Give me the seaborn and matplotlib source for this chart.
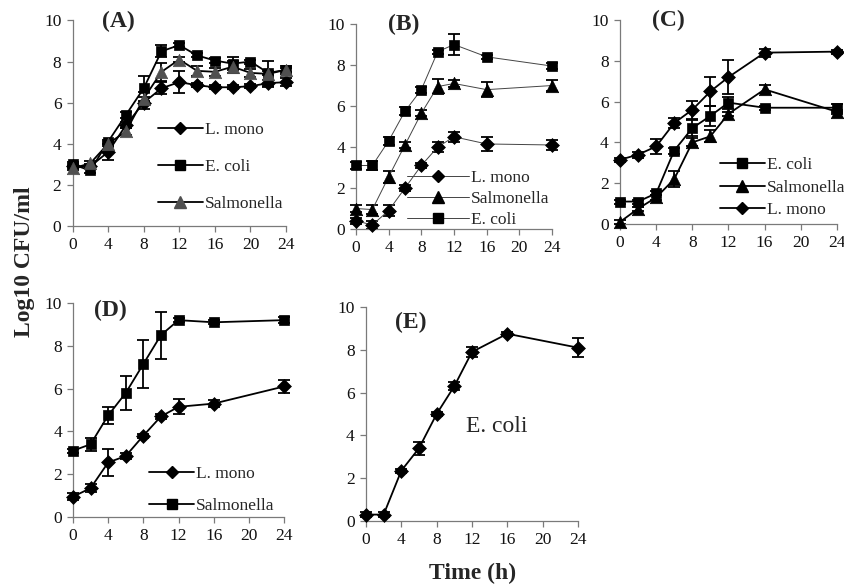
import numpy as np
import pandas as pd
import matplotlib
matplotlib.use("Agg")
import matplotlib.pyplot as plt
from matplotlib.lines import Line2D
import seaborn as sns

sns.set_theme(style="ticks")
plt.rcParams['font.family'] = ['Liberation Serif', 'DejaVu Serif']

# ---------------- data ----------------
t_A = [0, 2, 4, 6, 8, 10, 12, 14, 16, 18, 20, 22, 24]
A_lmono = [2.9, 2.9, 3.6, 4.9, 6.0, 6.7, 7.0, 6.85, 6.75, 6.75, 6.8, 6.95, 7.0]
A_lmono_err = [0.1, 0.1, 0.4, 0.15, 0.3, 0.3, 0.55, 0.1, 0.1, 0.1, 0.1, 0.15, 0.2]
A_ecoli = [3.0, 2.7, 4.1, 5.4, 6.7, 8.5, 8.8, 8.3, 8.05, 7.9, 8.0, 7.45, 7.6]
A_ecoli_err = [0.1, 0.1, 0.1, 0.15, 0.6, 0.3, 0.1, 0.1, 0.1, 0.3, 0.1, 0.1, 0.1]
A_salm = [2.8, 3.05, 4.0, 4.6, 6.2, 7.5, 8.1, 7.55, 7.5, 7.75, 7.45, 7.4, 7.6]
A_salm_err = [0.1, 0.1, 0.1, 0.15, 0.3, 0.45, 0.1, 0.25, 0.2, 0.3, 0.2, 0.65, 0.2]

t_B = [0, 2, 4, 6, 8, 10, 12, 16, 24]
B_ecoli = [3.1, 3.1, 4.3, 5.75, 6.8, 8.65, 9.0, 8.4, 7.95]
B_ecoli_err = [0.15, 0.2, 0.2, 0.2, 0.15, 0.1, 0.5, 0.1, 0.15]
B_salm = [1.0, 0.95, 2.55, 4.1, 5.65, 6.95, 7.1, 6.8, 7.0]
B_salm_err = [0.15, 0.2, 0.3, 0.15, 0.15, 0.35, 0.15, 0.35, 0.25]
B_lmono = [0.4, 0.2, 0.9, 2.0, 3.1, 4.0, 4.5, 4.15, 4.1]
B_lmono_err = [0.15, 0.2, 0.25, 0.15, 0.1, 0.25, 0.25, 0.35, 0.25]

t_C = [0, 2, 4, 6, 8, 10, 12, 16, 24]
C_ecoli = [1.1, 1.1, 1.5, 3.6, 4.7, 5.3, 5.95, 5.7, 5.7]
C_ecoli_err = [0.1, 0.1, 0.1, 0.15, 0.4, 0.5, 0.3, 0.1, 0.2]
C_salm = [0.1, 0.75, 1.3, 2.2, 4.0, 4.3, 5.4, 6.6, 5.5]
C_salm_err = [0.1, 0.1, 0.1, 0.4, 0.2, 0.3, 0.1, 0.2, 0.1]
C_lmono = [3.15, 3.4, 3.8, 4.95, 5.6, 6.5, 7.2, 8.4, 8.45]
C_lmono_err = [0.1, 0.15, 0.35, 0.25, 0.45, 0.7, 0.85, 0.2, 0.1]

t_D = [0, 2, 4, 6, 8, 10, 12, 16, 24]
D_lmono = [0.95, 1.35, 2.55, 2.85, 3.8, 4.7, 5.15, 5.3, 6.1]
D_lmono_err = [0.15, 0.2, 0.65, 0.15, 0.1, 0.1, 0.35, 0.15, 0.3]
D_salm = [3.1, 3.4, 4.75, 5.8, 7.15, 8.5, 9.2, 9.1, 9.2]
D_salm_err = [0.1, 0.3, 0.4, 0.8, 1.1, 1.1, 0.1, 0.1, 0.15]

t_E = [0, 2, 4, 6, 8, 10, 12, 16, 24]
E_ecoli = [0.3, 0.3, 2.35, 3.4, 5.0, 6.3, 7.9, 8.75, 8.1]
E_ecoli_err = [0.1, 0.1, 0.1, 0.3, 0.1, 0.2, 0.25, 0.1, 0.45]

panel_labels = ["(A)", "(B)", "(C)", "(D)", "(E)"]
x_ticks = [0, 4, 8, 12, 16, 20, 24]
y_ticks = [0, 2, 4, 6, 8, 10]

MSIZE = {"D": 6.5, "s": 7.5, "^": 8.5}
SAREA = {"D": 50, "s": 62, "^": 80}

fig = plt.figure(figsize=(8.45, 5.85), dpi=100)

positions = {
    "A": [0.0858, 0.6137, 0.2527, 0.3513],
    "B": [0.4213, 0.6085, 0.2320, 0.3504],
    "C": [0.7337, 0.6171, 0.2568, 0.3487],
    "D": [0.0864, 0.1162, 0.2497, 0.3658],
    "E": [0.4331, 0.1094, 0.2509, 0.3658],
}


def style_axis(ax):
    ax.set_xlim(0, 24)
    ax.set_ylim(0, 10)
    ax.set_xticks(x_ticks)
    ax.set_yticks(y_ticks)
    for s in ["top", "right"]:
        ax.spines[s].set_visible(False)
    for s in ["left", "bottom"]:
        ax.spines[s].set_color("#7a7a7a")
        ax.spines[s].set_linewidth(0.9)
    ax.tick_params(axis="both", direction="out", length=4, width=0.9,
                   color="#7a7a7a", labelsize=12.5, labelcolor="#111111", pad=4)
    ax.set_xlabel("")
    ax.set_ylabel("")
    ax.set_facecolor("white")


def draw(ax, t, series, lw, lcol):
    # series: (name, values, errors, colour, marker)
    rows = []
    for name, vals, errs, col, mk in series:
        for ti, v in zip(t, vals):
            rows.append({"t": ti, "v": v, "series": name})
    df = pd.DataFrame(rows)
    names = [s[0] for s in series]
    for name, vals, errs, col, mk in series:
        ax.errorbar(t, vals, yerr=errs, fmt="none", ecolor="black",
                    elinewidth=1.3, capsize=4, capthick=1.3, zorder=2, clip_on=False)
    sns.lineplot(data=df, x="t", y="v", hue="series", hue_order=names,
                 palette={n: lcol for n in names}, linewidth=lw, legend=False,
                 ax=ax, sort=False, zorder=3)
    for line in ax.lines:
        line.set_clip_on(False)
    for name, vals, errs, col, mk in series:
        sub = df[df["series"] == name]
        sns.scatterplot(data=sub, x="t", y="v", color=col, marker=mk,
                        s=SAREA[mk], edgecolor=col, linewidth=0.5,
                        legend=False, ax=ax, zorder=4, clip_on=False)


def legend(ax, entries, loc, spacing, lw, lcol, hlen=2.6):
    handles = []
    for name, col, mk in entries:
        handles.append(Line2D([0], [0], color=lcol, lw=lw, marker=mk,
                              markersize=MSIZE[mk], markerfacecolor=col,
                              markeredgecolor=col))
    ax.legend(handles, [e[0] for e in entries], loc="upper left",
              bbox_to_anchor=loc, frameon=False, fontsize=12.5,
              handlelength=hlen, handletextpad=0.1, labelspacing=spacing,
              borderaxespad=0, borderpad=0)


BLACK = "#000000"
GRAY = "#505050"

# Panel A
axA = fig.add_axes(positions["A"])
draw(axA, t_A, [("L. mono", A_lmono, A_lmono_err, BLACK, "D"),
                ("E. coli", A_ecoli, A_ecoli_err, BLACK, "s"),
                ("Salmonella", A_salm, A_salm_err, GRAY, "^")], 1.3, BLACK)
style_axis(axA)
legend(axA, [("L. mono", BLACK, "D"), ("E. coli", BLACK, "s"), ("Salmonella", GRAY, "^")],
       (0.40, 0.505), 1.2, 1.3, BLACK)

# Panel B
axB = fig.add_axes(positions["B"])
draw(axB, t_B, [("L. mono", B_lmono, B_lmono_err, BLACK, "D"),
                ("Salmonella", B_salm, B_salm_err, BLACK, "^"),
                ("E. coli", B_ecoli, B_ecoli_err, BLACK, "s")], 0.7, "#444444")
style_axis(axB)
legend(axB, [("L. mono", BLACK, "D"), ("Salmonella", BLACK, "^"), ("E. coli", BLACK, "s")],
       (0.26, 0.29), 0.3, 0.7, "#444444", hlen=3.6)

# Panel C
axC = fig.add_axes(positions["C"])
draw(axC, t_C, [("E. coli", C_ecoli, C_ecoli_err, BLACK, "s"),
                ("Salmonella", C_salm, C_salm_err, BLACK, "^"),
                ("L. mono", C_lmono, C_lmono_err, BLACK, "D")], 1.3, BLACK)
style_axis(axC)
legend(axC, [("E. coli", BLACK, "s"), ("Salmonella", BLACK, "^"), ("L. mono", BLACK, "D")],
       (0.46, 0.33), 0.38, 1.3, BLACK)

# Panel D
axD = fig.add_axes(positions["D"])
draw(axD, t_D, [("L. mono", D_lmono, D_lmono_err, BLACK, "D"),
                ("Salmonella", D_salm, D_salm_err, BLACK, "s")], 1.3, BLACK)
style_axis(axD)
legend(axD, [("L. mono", BLACK, "D"), ("Salmonella", BLACK, "s")],
       (0.36, 0.24), 0.95, 1.3, BLACK)

# Panel E
axE = fig.add_axes(positions["E"])
draw(axE, t_E, [("E. coli", E_ecoli, E_ecoli_err, BLACK, "D")], 1.3, BLACK)
style_axis(axE)
axE.text(14.8, 4.4, "E. coli", fontsize=17, ha="center", va="center")

# panel labels
for ax, lab, (x, y) in zip([axA, axB, axC, axD, axE], panel_labels,
                           [(5.2, 9.95), (5.8, 10.0), (5.3, 10.0), (4.2, 9.67), (5.1, 9.3)]):
    ax.text(x, y, lab, fontsize=17, fontweight="bold", ha="center", va="center",
            clip_on=False)

fig.text(25 / 845, 1 - 262 / 585, "Log10 CFU/ml", rotation=90, fontsize=17,
         fontweight="bold", ha="center", va="center")
fig.text(473 / 845, 1 - 573 / 585, "Time (h)", fontsize=17, fontweight="bold",
         ha="center", va="center")

fig.savefig("out.png", dpi=100, facecolor="white")
